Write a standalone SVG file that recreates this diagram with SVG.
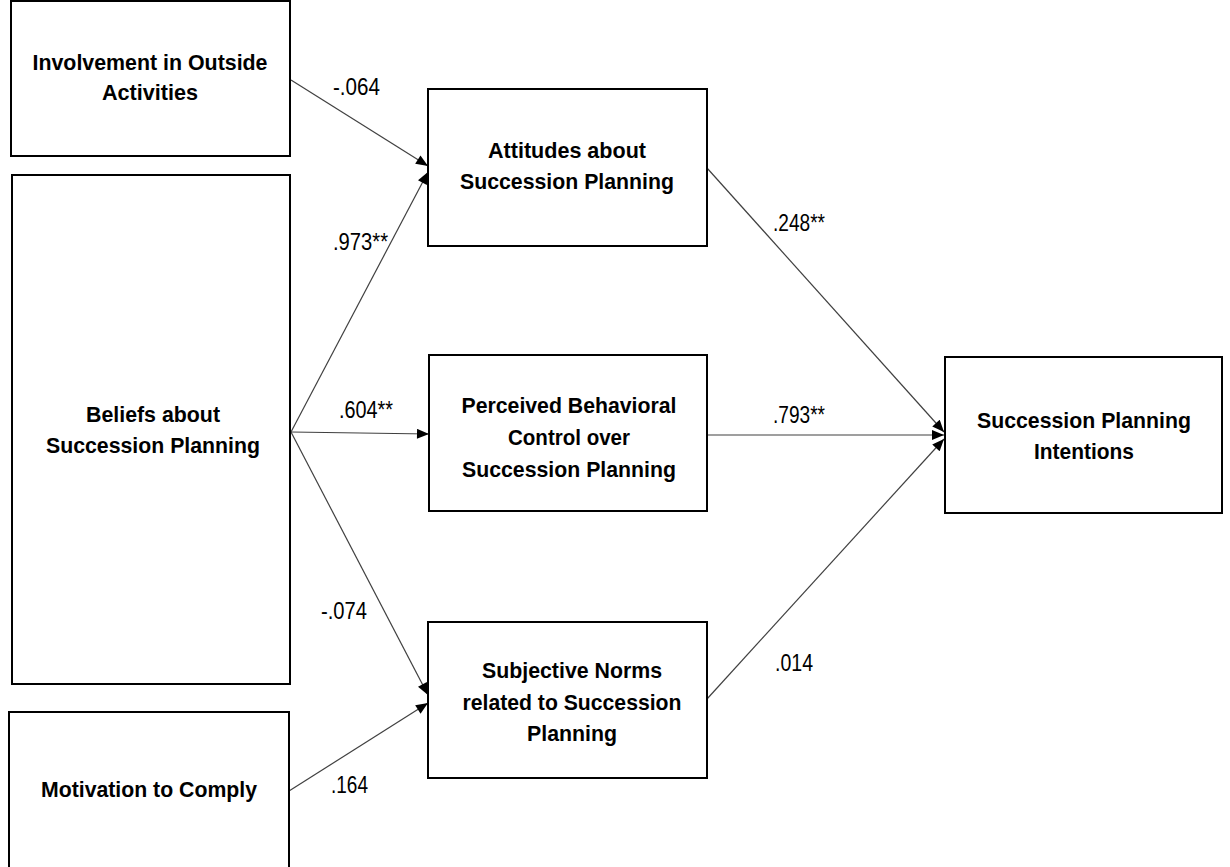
<svg xmlns="http://www.w3.org/2000/svg" width="1230" height="867" viewBox="0 0 1230 867">
<style>
.box{fill:#fff;stroke:#000;stroke-width:2}
.nt{font-family:"Liberation Sans",Arial,sans-serif;font-weight:bold;font-size:22.5px;fill:#000;text-anchor:middle}
.lb{font-family:"Liberation Sans",Arial,sans-serif;font-size:23.5px;fill:#000}
.cn{stroke:#404040;stroke-width:1.2;fill:none;marker-end:url(#ah)}
</style>
<defs>
<marker id="ah" viewBox="0 0 12 10" refX="12" refY="5" markerWidth="13" markerHeight="10" markerUnits="userSpaceOnUse" orient="auto">
<path d="M0,0 L12,5 L0,10 Z" fill="#000"/>
</marker>
</defs>
<rect width="1230" height="867" fill="#fff"/>
<g id="connectors">
<line class="cn" x1="291" y1="80" x2="428" y2="166"/>
<line class="cn" x1="291" y1="432" x2="428" y2="172"/>
<line class="cn" x1="291" y1="432" x2="429" y2="434"/>
<line class="cn" x1="291" y1="432" x2="428" y2="695"/>
<line class="cn" x1="289" y1="791" x2="428" y2="703"/>
<line class="cn" x1="707" y1="168" x2="944" y2="432"/>
<line class="cn" x1="707" y1="435" x2="944" y2="435"/>
<line class="cn" x1="707" y1="699" x2="944" y2="439"/>
</g>
<g id="labels">
<text class="lb" x="333" y="95" textLength="47" lengthAdjust="spacingAndGlyphs">-.064</text>
<text class="lb" x="333" y="250" textLength="55" lengthAdjust="spacingAndGlyphs">.973**</text>
<text class="lb" x="339" y="418" textLength="54" lengthAdjust="spacingAndGlyphs">.604**</text>
<text class="lb" x="321" y="619" textLength="46" lengthAdjust="spacingAndGlyphs">-.074</text>
<text class="lb" x="331" y="793" textLength="37" lengthAdjust="spacingAndGlyphs">.164</text>
<text class="lb" x="773" y="231" textLength="52" lengthAdjust="spacingAndGlyphs">.248**</text>
<text class="lb" x="773" y="423" textLength="52" lengthAdjust="spacingAndGlyphs">.793**</text>
<text class="lb" x="775" y="671" textLength="38" lengthAdjust="spacingAndGlyphs">.014</text>
</g>
<g id="involvement">
<rect class="box" x="11" y="1" width="279" height="155"/>
<text class="nt" x="150" y="70" textLength="235" lengthAdjust="spacingAndGlyphs">Involvement in Outside</text>
<text class="nt" x="150" y="100" textLength="96" lengthAdjust="spacingAndGlyphs">Activities</text>
</g>
<g id="beliefs">
<rect class="box" x="12" y="175" width="278" height="509"/>
<text class="nt" x="153" y="422" textLength="134" lengthAdjust="spacingAndGlyphs">Beliefs about</text>
<text class="nt" x="153" y="453" textLength="214" lengthAdjust="spacingAndGlyphs">Succession Planning</text>
</g>
<g id="motivation">
<rect class="box" x="9" y="712" width="280" height="165"/>
<text class="nt" x="149" y="797" textLength="216" lengthAdjust="spacingAndGlyphs">Motivation to Comply</text>
</g>
<g id="attitudes">
<rect class="box" x="428" y="89" width="279" height="157"/>
<text class="nt" x="567" y="158" textLength="158" lengthAdjust="spacingAndGlyphs">Attitudes about</text>
<text class="nt" x="567" y="189" textLength="214" lengthAdjust="spacingAndGlyphs">Succession Planning</text>
</g>
<g id="pbc">
<rect class="box" x="429" y="355" width="278" height="156"/>
<text class="nt" x="569" y="413" textLength="215" lengthAdjust="spacingAndGlyphs">Perceived Behavioral</text>
<text class="nt" x="569" y="445" textLength="122" lengthAdjust="spacingAndGlyphs">Control over</text>
<text class="nt" x="569" y="477" textLength="214" lengthAdjust="spacingAndGlyphs">Succession Planning</text>
</g>
<g id="norms">
<rect class="box" x="428" y="622" width="279" height="156"/>
<text class="nt" x="572" y="678" textLength="180" lengthAdjust="spacingAndGlyphs">Subjective Norms</text>
<text class="nt" x="572" y="710" textLength="219" lengthAdjust="spacingAndGlyphs">related to Succession</text>
<text class="nt" x="572" y="741" textLength="90" lengthAdjust="spacingAndGlyphs">Planning</text>
</g>
<g id="intentions">
<rect class="box" x="945" y="357" width="277" height="156"/>
<text class="nt" x="1084" y="428" textLength="214" lengthAdjust="spacingAndGlyphs">Succession Planning</text>
<text class="nt" x="1084" y="459" textLength="100" lengthAdjust="spacingAndGlyphs">Intentions</text>
</g>
</svg>
